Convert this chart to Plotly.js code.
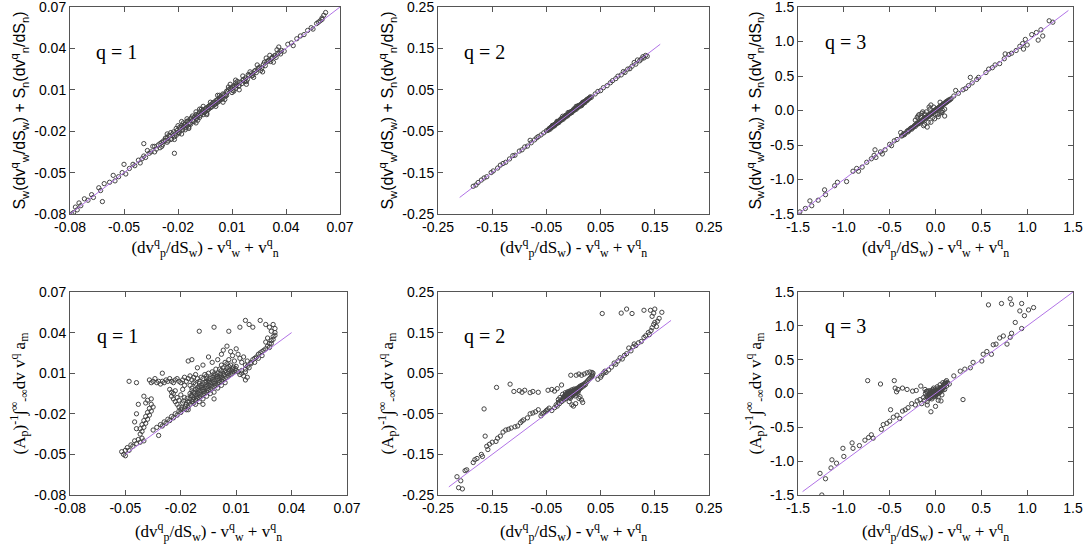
<!DOCTYPE html>
<html>
<head>
<meta charset="utf-8">
<script src="https://cdn.plot.ly/plotly-3.0.1.min.js"></script>
<style>html,body{margin:0;padding:0;background:#fff;}#chart{width:1084px;height:550px;}</style>
</head>
<body>
<div id="chart"></div>
<script>
// ---------- DATA ----------
// Tick values / labels
const ticks1 = [-0.08, -0.05, -0.02, 0.01, 0.04, 0.07];
const ticks1Text = ['-0.08', '-0.05', '-0.02', '0.01', '0.04', '0.07'];
const ticks2 = [-0.25, -0.15, -0.05, 0.05, 0.15, 0.25];
const ticks2Text = ['-0.25', '-0.15', '-0.05', '0.05', '0.15', '0.25'];
const ticks3 = [-1.5, -1.0, -0.5, 0.0, 0.5, 1.0, 1.5];
const ticks3Text = ['-1.5', '-1.0', '-0.5', '0.0', '0.5', '1.0', '1.5'];

// Identity-line extents (x = y)
const diagTopQ1 = [-0.08, 0.07];
const diagTopQ2 = [-0.21, 0.16];
const diagTopQ3 = [-1.5, 1.45];
const diagBotQ1 = [-0.05, 0.04];
const diagBotQ2 = [-0.23, 0.18];
const diagBotQ3 = [-1.45, 1.5];

// Top row, q = 1 : [x, y]
const topQ1 = [
[-0.079,-0.080],[-0.078,-0.079],[-0.077,-0.075],[-0.076,-0.077],[-0.075,-0.072],[-0.074,-0.074],[-0.072,-0.069],[-0.070,-0.070],
[-0.068,-0.066],[-0.067,-0.068],[-0.064,-0.061],[-0.063,-0.063],[-0.062,-0.071],[-0.061,-0.058],[-0.058,-0.057],[-0.056,-0.052],
[-0.055,-0.056],[-0.053,-0.053],[-0.051,-0.050],[-0.050,-0.044],[-0.049,-0.051],[-0.047,-0.047],[-0.045,-0.044],[-0.044,-0.045],
[-0.042,-0.041],[-0.041,-0.043],[-0.040,-0.040],[-0.039,-0.029],[-0.039,-0.038],[-0.038,-0.039],[-0.037,-0.034],[-0.036,-0.036],
[-0.035,-0.035],[-0.033,-0.031],[-0.032,-0.033],[-0.030,-0.029],[-0.029,-0.031],[-0.028,-0.027],[-0.027,-0.025],[-0.026,-0.028],
[-0.025,-0.023],[-0.024,-0.026],[-0.023,-0.022],[-0.022,-0.036],[-0.022,-0.024],[-0.021,-0.018],[-0.020,-0.021],[-0.019,-0.020],
[-0.018,-0.016],[-0.018,-0.022],[-0.017,-0.017],[-0.016,-0.015],[-0.016,-0.019],[-0.015,-0.013],[-0.015,-0.016],[-0.014,-0.014],
[-0.013,-0.011],[-0.013,-0.015],[-0.012,-0.012],[-0.011,-0.010],[-0.011,-0.013],[-0.010,-0.008],[-0.010,-0.011],[-0.009,-0.009],
[-0.008,-0.006],[-0.008,-0.010],[-0.007,-0.007],[-0.006,-0.005],[-0.006,-0.008],[-0.005,-0.004],[-0.005,-0.006],[-0.004,-0.003],
[-0.004,-0.005],[-0.003,-0.002],[-0.003,-0.004],[-0.002,-0.001],[-0.002,-0.003],[-0.001,0.000],[-0.001,-0.002],[0.000,0.001],
[0.000,-0.001],[0.001,0.002],[0.001,0.000],[0.002,0.003],[0.002,0.001],[0.003,0.004],[0.003,0.002],[0.004,0.005],
[0.004,0.003],[0.005,0.007],[0.005,0.004],[0.006,0.006],[0.007,0.009],[0.007,0.006],[0.008,0.010],[0.009,0.011],
[-0.024,-0.021],[-0.021,-0.023],[-0.019,-0.017],[-0.017,-0.014],[-0.014,-0.017],[-0.012,-0.009],[-0.009,-0.012],[-0.007,-0.004],
[-0.004,-0.007],[-0.002,0.001],[0.001,-0.002],[0.003,0.006],[0.006,0.003],[-0.020,-0.016],[-0.015,-0.011],[-0.010,-0.006],
[0.010,0.012],[0.011,0.013],[0.012,0.011],[0.013,0.016],[0.014,0.013],[0.016,0.017],[0.017,0.016],[0.019,0.021],
[0.021,0.020],[0.023,0.024],[0.025,0.026],[0.026,0.024],[0.028,0.030],[0.030,0.031],[0.032,0.033],[0.034,0.035],
[0.035,0.039],[0.037,0.036],[0.039,0.038],[0.041,0.043],[0.043,0.044],[0.044,0.042],[0.046,0.047],[0.048,0.049],
[0.050,0.050],[0.052,0.053],[0.054,0.055],[0.055,0.054],[0.057,0.058],[0.058,0.059],[0.059,0.060],[0.060,0.062],
[0.061,0.064],[0.062,0.066],[0.060,0.061]
];
const topQ1Core = [
[-0.031,-0.030],[-0.030,-0.032],[-0.029,-0.028],[-0.0285,-0.0295],[-0.027,-0.0265],[-0.026,-0.0245],[-0.0255,-0.027],[-0.0245,-0.0235],
[-0.0235,-0.0255],[-0.0225,-0.0205],[-0.0215,-0.022],[-0.0205,-0.0195],[-0.0195,-0.0215],[-0.0185,-0.0175],[-0.0175,-0.019],[-0.0165,-0.0155],
[-0.0155,-0.0175],[-0.0145,-0.0125],[-0.0135,-0.0145],[-0.0125,-0.0105],[-0.0115,-0.0125],[-0.0105,-0.0095],[-0.0095,-0.0105],[-0.0085,-0.0075],
[-0.0075,-0.0085],[-0.0065,-0.0055],[-0.0055,-0.0065],[-0.0045,-0.0035],[-0.0035,-0.0045],[-0.0025,-0.0015],[-0.0015,-0.0025],[-0.0005,0.0005],
[0.0005,-0.0005],[0.0015,0.0025],[0.0025,0.0015],[0.0035,0.0045],[0.0045,0.0035],[0.0055,0.0065],[0.0065,0.0055],[0.0075,0.0085],
[-0.018,-0.013],[-0.014,-0.018],[-0.008,-0.004],[-0.004,-0.008],[0.002,0.006],[0.005,0.001],[-0.026,-0.022],[-0.022,-0.026],
[-0.010,-0.014],[-0.006,-0.002],[0.008,0.012],[0.010,0.008],[-0.033,-0.035],[-0.034,-0.031],
[0.009,0.014],[0.011,0.009],[0.012,0.015],[0.014,0.010],[0.016,0.020],[0.018,0.016],[0.020,0.023],[0.022,0.019],
[0.0095,0.0105],[0.0105,0.0095],[0.0115,0.0125],[0.0125,0.0135],[0.0135,0.0125],[0.0145,0.0155],[0.0155,0.0145],[0.0165,0.0175],
[0.0175,0.0185],[0.0185,0.0175],[0.0195,0.0205],[0.0205,0.0215],[0.0215,0.0205],[0.0225,0.0235],[0.0235,0.0225],[0.0245,0.0255],
[0.0255,0.0265],[0.0265,0.0255],[0.0275,0.0285],[0.0285,0.0275],[0.0295,0.0305],[0.0305,0.0315],[0.0315,0.0305],[0.0325,0.0335],
[0.0335,0.0345],[0.0345,0.0335],[0.0355,0.0365],[0.0365,0.0375],[0.0375,0.0385],[0.012,0.017],[0.018,0.014],[0.024,0.028],
[0.027,0.023],[0.031,0.035],[0.033,0.030],[0.036,0.041],[0.029,0.033]
];

// Top row, q = 2
const topQ2 = [
[-0.185,-0.183],[-0.180,-0.180],[-0.176,-0.174],[-0.170,-0.168],[-0.165,-0.163],[-0.160,-0.160],[-0.152,-0.150],[-0.148,-0.146],
[-0.140,-0.139],[-0.135,-0.132],[-0.130,-0.128],[-0.125,-0.125],[-0.118,-0.117],[-0.112,-0.109],[-0.108,-0.108],[-0.100,-0.098],
[-0.095,-0.095],[-0.090,-0.088],[-0.085,-0.086],[-0.080,-0.072],[-0.078,-0.078],[-0.072,-0.071],[-0.068,-0.066],[-0.065,-0.063],
[-0.060,-0.059],[-0.055,-0.054],[-0.050,-0.049],
[-0.046,-0.046],[-0.044,-0.043],[-0.042,-0.042],[-0.040,-0.039],[-0.038,-0.038],[-0.036,-0.035],[-0.034,-0.034],[-0.032,-0.031],
[-0.030,-0.030],[-0.028,-0.027],[-0.026,-0.026],[-0.024,-0.022],[-0.022,-0.022],[-0.020,-0.019],[-0.018,-0.018],[-0.016,-0.014],
[-0.014,-0.014],[-0.012,-0.011],[-0.010,-0.010],[-0.008,-0.007],[-0.006,-0.006],[-0.004,-0.003],[-0.002,-0.002],[0.000,0.001],
[0.002,0.002],[0.004,0.005],[0.006,0.006],[0.008,0.009],[0.010,0.010],[0.012,0.013],[0.014,0.014],[0.016,0.017],
[0.018,0.018],[0.020,0.021],[0.022,0.022],[0.024,0.025],[0.026,0.026],[0.028,0.029],[0.030,0.030],[0.033,0.032],
[-0.045,-0.044],[-0.041,-0.040],[-0.037,-0.036],[-0.033,-0.033],[-0.029,-0.028],[-0.025,-0.024],[-0.021,-0.020],[-0.017,-0.016],
[-0.013,-0.012],[-0.009,-0.008],[-0.005,-0.004],[-0.001,0.000],[0.003,0.004],[0.007,0.008],[0.011,0.012],[0.015,0.016],
[0.019,0.020],[0.023,0.024],[0.027,0.028],[-0.020,-0.014],[-0.010,-0.005],[0.005,0.010],[-0.030,-0.026],[0.015,0.012],
[0.040,0.040],[0.045,0.046],[0.050,0.048],[0.055,0.055],[0.062,0.060],[0.068,0.067],[0.072,0.072],[0.078,0.077],
[0.082,0.083],[0.088,0.086],[0.092,0.094],[0.095,0.092],[0.100,0.100],[0.104,0.101],[0.108,0.107],[0.112,0.116],
[0.115,0.112],[0.118,0.122],[0.122,0.120],[0.125,0.124],[0.128,0.130],[0.130,0.127],[0.133,0.133],[0.136,0.131]
];
const topQ2Core = [
[-0.047,-0.048],[-0.043,-0.042],[-0.039,-0.040],[-0.035,-0.034],[-0.031,-0.032],[-0.027,-0.026],[-0.023,-0.024],[-0.019,-0.018],
[-0.015,-0.016],[-0.011,-0.010],[-0.007,-0.008],[-0.003,-0.002],[0.001,0.000],[0.005,0.006],[0.009,0.008],[0.013,0.014],
[0.017,0.016],[0.021,0.022],[0.025,0.024],[0.029,0.030],[0.031,0.033],[-0.043,-0.045],[-0.035,-0.037],[-0.027,-0.029],
[-0.019,-0.021],[-0.011,-0.013],[-0.003,-0.005],[0.005,0.003],[0.013,0.011],[0.021,0.019],[-0.039,-0.036],[-0.031,-0.028],
[-0.023,-0.020],[-0.015,-0.012],[-0.007,-0.004],[0.001,0.004],[0.009,0.012],[0.017,0.020],[0.025,0.027]
];

// Top row, q = 3
const topQ3 = [
[-1.48,-1.47],[-1.42,-1.42],[-1.37,-1.31],[-1.35,-1.38],[-1.28,-1.30],[-1.21,-1.15],[-1.20,-1.22],[-1.10,-1.09],
[-1.07,-1.04],[-0.97,-1.03],[-0.90,-0.88],[-0.86,-0.84],[-0.84,-0.88],[-0.80,-0.82],[-0.75,-0.75],[-0.70,-0.70],
[-0.67,-0.65],[-0.66,-0.57],[-0.65,-0.68],[-0.60,-0.60],[-0.58,-0.63],[-0.55,-0.57],[-0.50,-0.49],[-0.48,-0.51],
[-0.45,-0.44],[-0.42,-0.42],[-0.38,-0.32],[-0.36,-0.36],[-0.34,-0.35],[-0.30,-0.29],[-0.27,-0.26],[-0.25,-0.25],
[-0.22,-0.21],[-0.20,-0.18],[-0.18,-0.19],[-0.19,-0.08],[-0.16,-0.10],[-0.15,-0.14],[-0.13,-0.12],[-0.14,-0.02],
[-0.12,-0.20],[-0.10,-0.11],[-0.09,-0.24],[-0.08,-0.07],[-0.07,0.05],[-0.06,-0.05],[-0.05,-0.17],[-0.04,-0.04],
[-0.03,-0.02],[-0.02,-0.01],[-0.01,-0.12],[0.00,0.00],[0.01,0.01],[0.02,0.02],[0.03,-0.09],[0.04,0.04],
[0.05,0.05],[0.06,0.06],[0.07,-0.03],[0.08,0.08],[0.09,0.09],[0.10,-0.08],[0.11,0.11],[0.12,0.12],
[0.13,0.13],[0.15,0.15],[0.20,0.21],[0.22,0.29],[0.25,0.25],[0.30,0.30],[0.33,0.32],[0.36,0.36],
[0.38,0.48],[0.40,0.40],[0.45,0.45],[0.47,0.48],[0.55,0.55],[0.58,0.60],[0.62,0.62],[0.65,0.66],
[0.70,0.68],[0.75,0.75],[0.76,0.82],[0.80,0.81],[0.83,0.83],[0.88,0.87],[0.92,0.93],[0.95,0.97],
[0.96,0.89],[0.98,1.03],[1.00,0.95],[1.05,1.10],[1.10,1.13],[1.12,1.02],[1.15,1.17],[1.17,1.08],
[1.24,1.30],[1.28,1.28],
[-0.35,-0.34],[-0.30,-0.31],[-0.26,-0.27],[-0.23,-0.22],[-0.21,-0.20],[-0.17,-0.16],[-0.11,-0.10],[-0.09,-0.09],
[-0.07,-0.06],[-0.05,-0.05],[-0.03,-0.03],[-0.01,0.00],[0.01,0.02],[0.03,0.03],[0.05,0.06],[0.07,0.07],
[0.09,0.10],[0.11,0.12],[0.14,0.14],[0.17,0.17],[-0.20,-0.10],[-0.12,-0.05],[-0.02,0.05],[0.08,0.00],
[-0.15,-0.04],[0.04,-0.05],[-0.06,0.02]
];
const topQ3Core = [
[-0.37,-0.37],[-0.33,-0.33],[-0.31,-0.30],[-0.29,-0.29],[-0.28,-0.27],[-0.26,-0.25],[-0.24,-0.24],[-0.22,-0.23],
[-0.20,-0.20],[-0.19,-0.19],[-0.18,-0.17],[-0.16,-0.16],[-0.14,-0.15],[-0.13,-0.13],[-0.12,-0.11],[-0.10,-0.10],
[-0.08,-0.09],[-0.07,-0.07],[-0.06,-0.06],[-0.04,-0.05],[-0.02,-0.02],[0.00,0.01],[0.02,0.03],[0.04,0.05],
[0.06,0.07],[0.08,0.09],[0.10,0.10],[0.12,0.13],[0.14,0.15],[0.16,0.16],[-0.22,-0.14],[-0.18,-0.06],
[-0.10,-0.02],[-0.05,0.08],[0.02,-0.06],[0.06,-0.02],[0.10,0.02],[-0.08,-0.17],[-0.13,-0.22],[0.05,0.12],
[-0.03,-0.10]
];

// Bottom row, q = 1
const botQ1 = [
[-0.052,-0.048],[-0.051,-0.050],[-0.050,-0.051],[-0.050,-0.047],[-0.049,-0.045],[-0.048,-0.047],[-0.047,-0.043],[-0.046,-0.044],
[-0.045,-0.040],[-0.044,-0.042],[-0.043,-0.039],[-0.042,-0.041],[-0.041,-0.038],[-0.040,-0.040],
[-0.042,-0.035],[-0.042,-0.031],[-0.041,-0.033],[-0.041,-0.028],[-0.040,-0.030],[-0.040,-0.025],[-0.039,-0.027],[-0.039,-0.022],
[-0.038,-0.024],[-0.038,-0.019],[-0.037,-0.021],[-0.037,-0.016],[-0.036,-0.018],[-0.036,-0.013],[-0.035,-0.015],[-0.038,-0.010],
[-0.040,-0.007],[-0.039,-0.012],[-0.036,-0.009],[-0.043,-0.013],[-0.044,-0.020],[-0.045,-0.026],[-0.044,-0.031],
[-0.048,0.004],[-0.044,0.003],[-0.030,0.010],
[-0.037,0.005],[-0.036,0.003],[-0.035,0.004],[-0.034,0.006],[-0.033,0.003],[-0.032,0.004],[-0.031,0.002],[-0.030,0.004],
[-0.029,0.003],[-0.028,0.005],[-0.027,0.004],[-0.026,0.006],[-0.025,0.004],[-0.024,0.003],[-0.023,0.005],[-0.022,0.006],
[-0.021,0.004],[-0.020,0.003],[-0.019,0.005],[-0.018,0.007],[-0.017,0.004],[-0.016,0.006],[-0.015,0.008],[-0.014,0.005],
[-0.013,0.007],[-0.012,0.009],[-0.011,0.006],
[-0.026,-0.002],[-0.025,-0.004],[-0.025,-0.007],[-0.024,-0.009],[-0.024,-0.005],[-0.023,-0.011],[-0.023,-0.003],[-0.022,-0.013],
[-0.022,-0.008],[-0.021,-0.015],[-0.021,-0.010],[-0.020,-0.017],[-0.020,-0.006],[-0.019,-0.012],[-0.019,-0.002],[-0.018,-0.008],
[-0.018,0.001],
[-0.035,-0.032],[-0.033,-0.030],[-0.032,-0.036],[-0.031,-0.028],[-0.030,-0.029],[-0.029,-0.026],[-0.028,-0.027],[-0.027,-0.024],
[-0.026,-0.025],[-0.025,-0.022],[-0.024,-0.023],[-0.023,-0.020],[-0.022,-0.021],[-0.021,-0.018],[-0.020,-0.019],
[-0.018,-0.016],[-0.017,-0.013],[-0.017,-0.017],[-0.016,-0.011],[-0.016,-0.015],[-0.015,-0.009],[-0.015,-0.013],[-0.015,-0.005],
[-0.014,-0.011],[-0.014,-0.007],[-0.014,-0.003],[-0.013,-0.012],[-0.013,-0.008],[-0.013,-0.004],[-0.012,-0.010],[-0.012,-0.006],
[-0.012,-0.002],[-0.012,0.002],[-0.011,-0.009],[-0.011,-0.005],[-0.011,-0.001],[-0.010,-0.008],[-0.010,-0.004],[-0.010,0.000],
[-0.010,0.004],[-0.009,-0.007],[-0.009,-0.003],[-0.009,0.001],[-0.008,-0.006],[-0.008,-0.002],[-0.008,0.002],[-0.008,0.006],
[-0.007,-0.005],[-0.007,-0.001],[-0.007,0.003],[-0.006,-0.004],[-0.006,0.000],[-0.006,0.004],[-0.006,0.008],[-0.005,-0.003],
[-0.005,0.001],[-0.005,0.005],[-0.004,-0.002],[-0.004,0.002],[-0.004,0.006],[-0.003,-0.001],[-0.003,0.003],[-0.003,0.007],
[-0.003,0.011],[-0.002,0.000],[-0.002,0.004],[-0.002,0.008],[-0.001,0.001],[-0.001,0.005],[-0.001,0.009],[0.000,0.002],
[0.000,0.006],[0.000,0.010],[0.001,0.003],[0.001,0.007],[0.001,0.013],[0.002,0.004],[0.002,0.008],[0.002,0.016],
[0.003,0.005],[0.003,0.010],[0.004,0.006],[0.004,0.012],[0.004,0.018],[0.005,0.007],[0.005,0.014],[0.006,0.008],
[0.006,0.011],[0.006,0.020],[0.007,0.009],[0.007,0.016],[0.008,0.010],[0.008,0.013],[0.009,0.011],[0.009,0.019],
[0.010,0.012],[0.010,0.015],[-0.010,-0.011],[-0.006,-0.007],[-0.002,-0.004],[0.002,0.001],[-0.008,-0.013],[-0.002,-0.009],
[-0.016,0.019],[-0.014,0.020],[-0.011,0.014],[-0.008,0.016],[-0.005,0.022],[-0.003,0.018],[0.000,0.020],[0.002,0.024],
[0.003,0.027],[0.005,0.030],[0.007,0.026],[0.008,0.023],[0.010,0.028],[0.011,0.024],[0.012,0.021],[0.013,0.018],
[0.014,0.022],[0.015,0.016],[0.016,0.019],[0.013,0.012],[0.015,0.013],[0.017,0.014],[0.018,0.017],
[-0.010,0.041],[-0.002,0.044],[0.006,0.041],[0.012,0.044],[0.015,0.049],[0.017,0.046],[0.019,0.044],[0.023,0.049],
[0.026,0.046],[0.028,0.044],[0.029,0.041],[0.030,0.046],[0.031,0.043],[0.031,0.038],[0.030,0.035],[0.029,0.032],
[0.028,0.029],[0.027,0.036],[0.026,0.033],
[0.011,0.011],[0.012,0.009],[0.013,0.010],[0.014,0.008],[0.015,0.011],[0.016,0.015],[0.018,0.018],[0.019,0.020],
[0.020,0.021],[0.021,0.022],[0.022,0.024],[0.023,0.025],[0.024,0.026],[0.025,0.027],[0.026,0.028],[0.027,0.030],
[0.028,0.032],[0.029,0.034],[0.030,0.037],[0.031,0.040],[0.020,0.018],[0.022,0.021],[0.024,0.023],[0.015,0.005],
[0.016,0.007]
];
const botQ1Core = [
[-0.0195,-0.0155],[-0.0185,-0.0105],[-0.0175,-0.0145],[-0.0165,-0.0085],[-0.0155,-0.0115],[-0.0145,-0.0065],[-0.0135,-0.0095],[-0.0125,-0.0045],
[-0.0115,-0.0075],[-0.0105,-0.0025],[-0.0095,-0.0055],[-0.0085,-0.0005],[-0.0075,-0.0035],[-0.0065,0.0015],[-0.0055,-0.0015],[-0.0045,0.0035],
[-0.0035,0.0005],[-0.0025,0.0055],[-0.0015,0.0025],[-0.0005,0.0075],[0.0005,0.0045],[0.0015,0.0095],[0.0025,0.0065],[0.0035,0.0085],
[0.0045,0.0105],[0.0055,0.0095],[0.0065,0.0125],[0.0075,0.0115],[0.0085,0.0145],[0.0095,0.0135],[-0.0160,-0.0170],[-0.0120,-0.0130],
[-0.0080,-0.0090],[-0.0040,-0.0050],[0.0000,-0.0010],[0.0040,0.0030],[-0.0140,-0.0010],[-0.0100,0.0025],[-0.0060,0.0060],[-0.0020,0.0095],
[0.0020,0.0120],[0.0060,0.0150],[-0.0150,0.0010],[-0.0130,0.0030],[-0.0090,0.0070],[-0.0070,0.0090],[-0.0050,0.0100],[-0.0010,0.0130],
[0.0030,0.0140],[0.0050,0.0170]
];

// Bottom row, q = 2
const botQ2 = [
[-0.215,-0.205],[-0.212,-0.232],[-0.205,-0.235],[-0.208,-0.215],[-0.200,-0.190],[-0.197,-0.188],[-0.185,-0.170],[-0.182,-0.163],
[-0.178,-0.160],[-0.170,-0.150],[-0.168,-0.155],[-0.160,-0.130],[-0.158,-0.138],[-0.155,-0.125],[-0.150,-0.120],[-0.143,-0.118],
[-0.140,-0.110],[-0.135,-0.105],[-0.130,-0.095],[-0.125,-0.090],[-0.120,-0.088],[-0.115,-0.085],[-0.108,-0.082],[-0.103,-0.080],
[-0.098,-0.072],[-0.095,-0.068],[-0.092,-0.065],[-0.085,-0.060],[-0.080,-0.050],[-0.075,-0.048],[-0.070,-0.045],[-0.065,-0.040],
[-0.060,-0.055],[-0.058,-0.050],[-0.055,-0.048],[-0.052,-0.045],[-0.050,-0.042],[-0.048,-0.040],[-0.045,-0.036],
[-0.163,-0.105],[-0.165,-0.038],[-0.142,0.015],[-0.117,0.023],[-0.110,0.005],[-0.100,0.007],[-0.095,0.003],[-0.090,0.008],
[-0.080,0.002],[-0.075,0.005],[-0.065,0.003],[-0.047,0.008],[-0.040,0.010],[-0.035,0.006],[-0.030,0.012],[-0.022,0.021],
[-0.040,-0.042],[-0.035,-0.035],[-0.032,-0.028],[-0.030,-0.031],[-0.028,-0.022],[-0.026,-0.025],[-0.024,-0.018],[-0.022,-0.020],
[-0.020,-0.012],[-0.018,-0.016],[-0.018,-0.008],[-0.016,-0.010],[-0.015,-0.003],[-0.014,-0.012],[-0.013,-0.006],[-0.012,0.000],
[-0.011,-0.008],[-0.010,-0.002],[-0.009,0.004],[-0.008,-0.010],[-0.008,-0.004],[-0.007,0.002],[-0.006,-0.006],[-0.005,0.000],
[-0.005,0.006],[-0.004,-0.008],[-0.003,-0.002],[-0.003,0.004],[-0.002,-0.005],[-0.001,0.001],[0.000,0.007],[0.000,-0.003],
[0.001,0.003],[0.002,-0.001],[0.002,0.009],[0.003,0.005],[0.004,0.001],[0.005,0.011],[0.005,0.007],[0.006,0.003],
[0.007,0.013],[0.008,0.009],[0.009,0.006],[0.010,0.015],[0.011,0.011],[0.012,0.018],[0.013,0.013],[0.015,0.020],
[0.016,0.016],[0.018,0.022],[0.019,0.019],[0.021,0.025],[0.022,0.022],[0.024,0.028],[0.026,0.031],[0.028,0.034],
[0.030,0.037],[0.032,0.040],[0.034,0.043],[0.035,0.046],[0.036,0.050],[0.034,0.052],[0.030,0.053],[0.025,0.051],
[0.020,0.048],[0.015,0.045],[0.010,0.048],[0.005,0.045],[-0.005,0.045],
[-0.003,-0.028],[0.000,-0.031],[0.004,-0.025],[0.012,-0.008],[0.015,-0.016],[0.017,-0.022],[0.010,-0.012],[-0.008,-0.020],
[0.045,0.035],[0.050,0.040],[0.052,0.045],[0.055,0.050],[0.058,0.055],[0.060,0.052],[0.065,0.058],[0.070,0.065],
[0.075,0.075],[0.078,0.072],[0.082,0.080],[0.086,0.088],[0.090,0.085],[0.094,0.094],[0.098,0.098],[0.102,0.112],
[0.106,0.105],[0.110,0.115],[0.112,0.122],[0.115,0.118],[0.120,0.125],[0.125,0.128],[0.130,0.138],[0.133,0.142],
[0.138,0.150],[0.140,0.145],[0.143,0.155],[0.145,0.162],[0.148,0.170],[0.150,0.175],[0.153,0.165],[0.155,0.178],
[0.158,0.185],
[0.053,0.197],[0.088,0.198],[0.098,0.208],[0.108,0.197],[0.130,0.205],[0.142,0.205],[0.150,0.208],[0.148,0.198],
[0.163,0.200],[0.145,0.190]
];
const botQ2Core = [
[-0.0185,-0.0135],[-0.0165,-0.0065],[-0.0145,-0.0085],[-0.0125,-0.0035],[-0.0105,-0.0055],[-0.0085,0.0005],[-0.0065,-0.0025],[-0.0045,0.0035],
[-0.0025,0.0005],[-0.0005,0.0045],[0.0015,0.0015],[0.0035,0.0075],[0.0055,0.0045],[0.0075,0.0105],[0.0095,0.0085],[0.0115,0.0145],
[0.0135,0.0165],[-0.0150,0.0020],[-0.0110,0.0040],[-0.0070,0.0060],[-0.0030,0.0090],[0.0010,0.0110],[-0.0200,-0.0020],[-0.0060,-0.0120],
[0.0030,-0.0060],[0.0080,0.0010],[-0.0250,-0.0100],[-0.0280,-0.0150]
];

// Bottom row, q = 3
const botQ3 = [
[-1.26,-1.18],[-1.20,-1.26],[-1.24,-1.50],[-1.14,-1.10],[-1.13,-0.98],[-1.08,-1.03],[-1.01,-0.81],[-1.00,-0.93],
[-0.91,-0.73],[-0.90,-0.81],[-0.83,-0.77],[-0.77,-0.69],[-0.73,-0.65],[-0.70,-0.61],[-0.68,-0.66],[-0.59,-0.53],
[-0.57,-0.46],[-0.53,-0.44],[-0.50,-0.41],[-0.49,-0.24],[-0.46,-0.35],[-0.42,-0.32],[-0.39,-0.37],[-0.36,-0.26],
[-0.33,-0.24],[-0.30,-0.21],[-0.26,-0.15],[-0.22,-0.17],[-0.20,-0.11],[-0.17,-0.09],[-0.15,-0.15],
[-0.74,0.19],[-0.60,0.14],[-0.45,0.19],[-0.44,0.08],[-0.41,0.06],[-0.36,0.08],[-0.31,0.06],[-0.25,0.035],
[-0.21,0.045],[-0.16,0.11],[-0.115,0.06],[-0.09,0.035],[-0.425,0.025],
[-0.09,-0.17],[-0.05,-0.27],[0.00,-0.19],[0.06,-0.11],[0.30,-0.09],[-0.13,-0.06],
[-0.08,-0.06],[-0.07,-0.02],[-0.06,0.02],[-0.05,-0.04],[-0.05,0.04],[-0.04,0.00],[-0.04,-0.08],[-0.03,0.03],
[-0.03,-0.03],[-0.02,0.01],[-0.02,-0.05],[-0.01,-0.01],[-0.01,0.05],[0.00,0.00],[0.00,-0.04],[0.01,0.02],
[0.01,-0.02],[0.02,0.04],[0.02,0.00],[0.03,0.03],[0.03,-0.05],[0.04,0.05],[0.04,0.01],[0.05,0.06],
[0.05,0.02],[0.06,0.08],[0.06,0.04],[0.07,0.07],[0.08,0.10],[0.08,0.05],[0.09,0.09],[0.10,0.12],
[0.10,0.06],[0.11,0.15],[0.12,0.11],[0.02,0.10],[0.05,0.13],[0.08,0.16],[-0.10,-0.04],[-0.12,-0.10],
[-0.09,-0.12],[-0.06,-0.07],[0.03,-0.10],[-0.02,0.08],[0.07,-0.02],[-0.11,0.00],[0.13,0.16],[0.15,0.14],
[0.12,0.19],[0.20,0.26],[0.27,0.33],[0.32,0.36],[0.38,0.38],[0.41,0.46],[0.505,0.48],[0.52,0.58],
[0.56,0.62],[0.61,0.58],[0.63,0.72],[0.66,0.73],[0.70,0.82],[0.74,0.85],[0.78,0.73],[0.815,0.83],
[0.83,0.89],[0.87,1.05],[0.94,0.96],[0.92,1.22],[0.97,1.15],[1.015,1.235],[1.07,1.27],[0.94,1.33],
[0.815,1.40],[0.83,1.32],[0.72,1.33],[0.578,1.31]
];
const botQ3Core = [
[-0.085,-0.045],[-0.075,-0.08],[-0.065,-0.03],[-0.055,0.005],[-0.045,-0.055],[-0.035,-0.015],[-0.025,0.035],[-0.015,-0.035],
[-0.005,0.025],[0.005,-0.005],[0.015,0.045],[0.025,0.015],[0.035,0.065],[0.045,0.035],[0.055,0.085],[0.065,0.055],
[0.075,0.095],[0.09,0.13],[0.11,0.17],[-0.07,0.04],[-0.10,0.03],[-0.03,0.06],[0.03,0.08],[0.10,0.15]
];

// ---------- CHART ----------
const FRAME = '#555555';
const LINE_COLOR = '#b173e6';
const MARK_COLOR = '#444444';

function pts(arr, xa, ya) {
  return {
    type: 'scatter', mode: 'markers', xaxis: xa, yaxis: ya,
    x: arr.map(p => p[0]), y: arr.map(p => p[1]),
    marker: { symbol: 'circle-open', size: 4.3, color: MARK_COLOR, line: { width: 1, color: MARK_COLOR } },
    hoverinfo: 'skip', showlegend: false
  };
}
function diag(ext, xa, ya) {
  return {
    type: 'scatter', mode: 'lines', xaxis: xa, yaxis: ya,
    x: ext, y: ext, line: { color: LINE_COLOR, width: 1 },
    hoverinfo: 'skip', showlegend: false
  };
}

const data = [
  pts(topQ1.concat(topQ1Core), 'x', 'y'),
  pts(topQ2.concat(topQ2Core), 'x2', 'y2'),
  pts(topQ3.concat(topQ3Core), 'x3', 'y3'),
  pts(botQ1.concat(botQ1Core), 'x4', 'y4'),
  pts(botQ2.concat(botQ2Core), 'x5', 'y5'),
  pts(botQ3.concat(botQ3Core), 'x6', 'y6'),
  diag(diagTopQ1, 'x', 'y'), diag(diagTopQ2, 'x2', 'y2'), diag(diagTopQ3, 'x3', 'y3'),
  diag(diagBotQ1, 'x4', 'y4'), diag(diagBotQ2, 'x5', 'y5'), diag(diagBotQ3, 'x6', 'y6')
];

const xTitle = '(dv<sup>q</sup><sub>p</sub>/dS<sub>w</sub>) - v<sup>q</sup><sub>w</sub> + v<sup>q</sup><sub>n</sub>';
const yTitleTop = 'S<sub>w</sub>(dv<sup>q</sup><sub>w</sub>/dS<sub>w</sub>) + S<sub>n</sub>(dv<sup>q</sup><sub>n</sub>/dS<sub>n</sub>)';
const yTitleBot = '(A<sub>p</sub>)<sup>-1</sup>∫<sup>∞</sup><sub>-∞</sub>dv v<sup>q</sup> a<sub>m</sub>';

const serif = 'Liberation Serif, Times New Roman, serif';
const sans = 'Liberation Sans, Arial, Helvetica, sans-serif';

function axis(domain, anchor, tv, tt, title, tfont, tsize, standoff) {
  return {
    domain: domain, anchor: anchor,
    range: [tv[0], tv[tv.length - 1]], autorange: false,
    tickmode: 'array', tickvals: tv, ticktext: tt,
    ticks: 'inside', ticklen: 5, tickwidth: 1, tickcolor: FRAME,
    showline: true, linecolor: FRAME, linewidth: 1, mirror: 'ticks',
    showgrid: false, zeroline: false,
    ticklabeloverflow: 'allow',
    tickfont: { family: sans, size: 14, color: '#000' },
    title: { text: title, font: { family: tfont, size: tsize, color: '#000' }, standoff: standoff },
    fixedrange: true
  };
}

const W = 1084, H = 550;
const dx1 = [70 / W, 340 / W], dx1b = [70 / W, 347 / W];
const dx2 = [438 / W, 709 / W];
const dx3 = [798 / W, 1073 / W];
const dyTop = [1 - 214 / H, 1 - 7 / H];
const dyBot = [1 - 495 / H, 1 - 292 / H];

const layout = {
  width: W, height: H, autosize: false,
  margin: { l: 0, r: 0, t: 0, b: 0 },
  paper_bgcolor: '#fff', plot_bgcolor: '#fff',
  showlegend: false,
  xaxis:  axis(dx1,  'y',  ticks1, ticks1Text, xTitle, serif, 17, 6),
  yaxis:  axis(dyTop,'x',  ticks1, ticks1Text, yTitleTop, sans, 16, 4),
  xaxis2: axis(dx2,  'y2', ticks2, ticks2Text, xTitle, serif, 17, 6),
  yaxis2: axis(dyTop,'x2', ticks2, ticks2Text, yTitleTop, sans, 16, 4),
  xaxis3: axis(dx3,  'y3', ticks3, ticks3Text, xTitle, serif, 17, 6),
  yaxis3: axis(dyTop,'x3', ticks3, ticks3Text, yTitleTop, sans, 16, 4),
  xaxis4: axis(dx1b, 'y4', ticks1, ticks1Text, xTitle, serif, 17, 10),
  yaxis4: axis(dyBot,'x4', ticks1, ticks1Text, yTitleBot, serif, 17, 4),
  xaxis5: axis(dx2,  'y5', ticks2, ticks2Text, xTitle, serif, 17, 10),
  yaxis5: axis(dyBot,'x5', ticks2, ticks2Text, yTitleBot, serif, 17, 4),
  xaxis6: axis(dx3,  'y6', ticks3, ticks3Text, xTitle, serif, 17, 10),
  yaxis6: axis(dyBot,'x6', ticks3, ticks3Text, yTitleBot, serif, 17, 4),
  annotations: [
    { text: 'q = 1', xref: 'x domain', yref: 'y domain', x: 0.09, y: 0.78 },
    { text: 'q = 2', xref: 'x2 domain', yref: 'y2 domain', x: 0.09, y: 0.78 },
    { text: 'q = 3', xref: 'x3 domain', yref: 'y3 domain', x: 0.09, y: 0.83 },
    { text: 'q = 1', xref: 'x4 domain', yref: 'y4 domain', x: 0.09, y: 0.78 },
    { text: 'q = 2', xref: 'x5 domain', yref: 'y5 domain', x: 0.09, y: 0.78 },
    { text: 'q = 3', xref: 'x6 domain', yref: 'y6 domain', x: 0.09, y: 0.83 }
  ].map(a => Object.assign(a, { showarrow: false, xanchor: 'left', yanchor: 'middle', font: { family: serif, size: 20, color: '#000' } }))
};

Plotly.newPlot('chart', data, layout, { staticPlot: true, displayModeBar: false });
</script>
</body>
</html>
